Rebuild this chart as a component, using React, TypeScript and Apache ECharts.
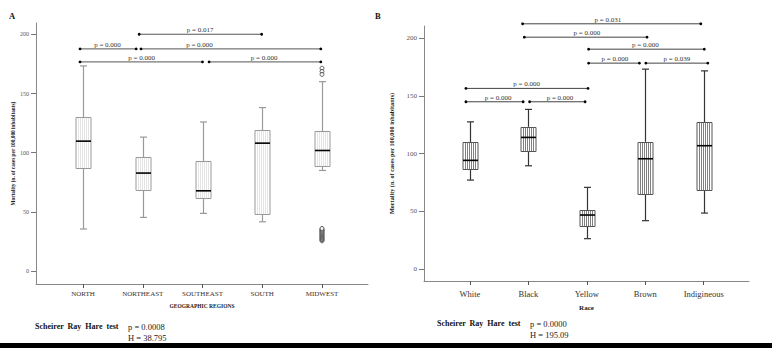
import React, { useEffect, useRef } from "react";
import * as echarts from "echarts";

const FONT = "'Liberation Serif', 'Times New Roman', serif";

const regionCategories = ["NORTH", "NORTHEAST", "SOUTHEAST", "SOUTH", "MIDWEST"];
// [x, min, Q1, median, Q3, max]
const regionBoxes = [
  [0, 35.5, 87.2, 109.8, 130.0, 173.4],
  [1, 45.3, 68.4, 82.8, 96.3, 113.2],
  [2, 48.7, 61.6, 67.8, 92.6, 126.0],
  [3, 41.6, 47.8, 108.1, 119.1, 138.2],
  [4, 85.0, 89.0, 101.9, 118.2, 160.1],
];
const regionOutliers = [
  [4, 171.5], [4, 168.7], [4, 166.2],
  [4, 25.5], [4, 26.3], [4, 27], [4, 27.8], [4, 28.5], [4, 29.3], [4, 30], [4, 30.8],
  [4, 31.5], [4, 32.3], [4, 33], [4, 33.8], [4, 34.5], [4, 35.3], [4, 36],
];
// [from, to, y, textX]
const regionBrackets = [
  [0.94, 2.99, 200.2, 1.96],
  [-0.05, 0.89, 187.8, 0.41],
  [0.97, 3.98, 187.8, 1.95],
  [-0.05, 2.0, 176.8, 0.98],
  [2.11, 3.98, 176.8, 3.03],
];
const regionBracketLabels = ["p = 0.017", "p = 0.000", "p = 0.000", "p = 0.000", "p = 0.000"];

const raceCategories = ["White", "Black", "Yellow", "Brown", "Indigineous"];
const raceBoxes = [
  [0, 77.1, 86.7, 94.2, 109.8, 127.6],
  [1, 89.5, 102.3, 114.1, 123.3, 138.4],
  [2, 26.3, 37.3, 46.8, 51.1, 70.8],
  [3, 41.9, 65.0, 95.6, 110.3, 173.3],
  [4, 48.5, 68.2, 106.9, 127.1, 171.8],
];
const raceBrackets = [
  [0.9, 3.95, 212.6, 2.36],
  [0.93, 3.03, 201, 2.0],
  [2.03, 4.01, 190.6, 3.0],
  [2.03, 2.9, 178.5, 2.48],
  [3.01, 4.07, 178.5, 3.54],
  [-0.07, 2.02, 156.6, 0.97],
  [-0.07, 0.91, 145, 0.48],
  [1.02, 1.97, 145, 1.54],
];
const raceBracketLabels = [
  "p = 0.031", "p = 0.000", "p = 0.000", "p = 0.000", "p = 0.039", "p = 0.000", "p = 0.000", "p = 0.000",
];

const yTicks = [0, 50, 100, 150, 200];
const xTicks = [0, 1, 2, 3, 4];

type BoxStyle = {
  boxWidth: number;
  capWidth: number;
  whisker: string;
  border: string;
  stripe: string;
  stripeWidth: number;
  stripeGap: number;
  dash: number[] | null;
};

function makeBoxRender(s: BoxStyle) {
  return (params: any, api: any) => {
    const x = api.value(0);
    const pMin = api.coord([x, api.value(1)]);
    const pQ1 = api.coord([x, api.value(2)]);
    const pMed = api.coord([x, api.value(3)]);
    const pQ3 = api.coord([x, api.value(4)]);
    const pMax = api.coord([x, api.value(5)]);
    const cx = Math.round(pMin[0]) + 0.5;
    const hw = s.boxWidth / 2;
    const cw = s.capWidth / 2;
    const children: any[] = [];
    const ws = { stroke: s.whisker, lineWidth: 1.2 };
    children.push({ type: "line", shape: { x1: cx, y1: pMax[1], x2: cx, y2: pQ3[1] }, style: ws });
    children.push({ type: "line", shape: { x1: cx, y1: pQ1[1], x2: cx, y2: pMin[1] }, style: ws });
    children.push({ type: "line", shape: { x1: cx - cw, y1: pMax[1], x2: cx + cw, y2: pMax[1] }, style: ws });
    children.push({ type: "line", shape: { x1: cx - cw, y1: pMin[1], x2: cx + cw, y2: pMin[1] }, style: ws });
    const top = Math.round(pQ3[1]) + 0.5;
    const bottom = Math.round(pQ1[1]) + 0.5;
    const h = bottom - top;
    const bx = cx - hw; // integer
    children.push({ type: "rect", shape: { x: bx, y: top, width: 2 * hw, height: h }, style: { fill: "#fff" } });
    for (let lx = bx + 2.5; lx < bx + 2 * hw - 1; lx += s.stripeGap) {
      children.push({
        type: "line",
        shape: { x1: lx, y1: top, x2: lx, y2: bottom },
        style: { stroke: s.stripe, lineWidth: s.stripeWidth, lineDash: s.dash || undefined },
      });
    }
    children.push({
      type: "rect",
      shape: { x: bx, y: top, width: 2 * hw, height: h },
      style: { fill: "none", stroke: s.border, lineWidth: 1 },
    });
    children.push({
      type: "line",
      shape: { x1: bx, y1: pMed[1], x2: bx + 2 * hw, y2: pMed[1] },
      style: { stroke: "#000", lineWidth: 1.6 },
    });
    return { type: "group", children };
  };
}

function makeBracketRender(labels: string[], color: string) {
  return (params: any, api: any) => {
    const y = api.value(2);
    const p1 = api.coord([api.value(0), y]);
    const p2 = api.coord([api.value(1), y]);
    const pt = api.coord([api.value(3), y]);
    return {
      type: "group",
      children: [
        { type: "line", shape: { x1: p1[0], y1: p1[1], x2: p2[0], y2: p2[1] }, style: { stroke: color, lineWidth: 1 } },
        { type: "circle", shape: { cx: p1[0], cy: p1[1], r: 1.4 }, style: { fill: "#000" } },
        { type: "circle", shape: { cx: p2[0], cy: p2[1], r: 1.4 }, style: { fill: "#000" } },
        {
          type: "text",
          x: pt[0],
          y: pt[1] - 0.5,
          style: {
            text: labels[params.dataIndex],
            fontSize: 7,
            fontFamily: FONT,
            fill: "#333",
            align: "center",
            verticalAlign: "bottom",
          },
        },
      ],
    };
  };
}

function xAxisCfg(grid: number, min: number, max: number, cats: string[], opts: any) {
  return {
    gridIndex: grid,
    type: "value",
    min,
    max,
    splitLine: { show: false },
    axisLine: { show: true, onZero: false, lineStyle: { color: "#888", width: 1 } },
    axisTick: { show: true, customValues: xTicks, length: 4, lineStyle: { color: "#555" } },
    axisLabel: {
      customValues: xTicks,
      formatter: (v: number) => cats[Math.round(v)] || "",
      fontSize: opts.labelSize,
      fontFamily: FONT,
      color: "#333",
      margin: opts.labelMargin,
    },
    name: opts.name,
    nameLocation: "middle",
    nameGap: opts.nameGap,
    nameTextStyle: { fontSize: opts.nameSize, fontWeight: "bold", fontFamily: FONT, color: "#222" },
  };
}

function yAxisCfg(grid: number, min: number, max: number, opts: any) {
  return {
    gridIndex: grid,
    type: "value",
    min,
    max,
    splitLine: { show: false },
    axisLine: { show: true, onZero: false, lineStyle: { color: "#888", width: 1 } },
    axisTick: { show: true, customValues: yTicks, length: 5, lineStyle: { color: "#777" } },
    axisLabel: {
      customValues: yTicks,
      fontSize: opts.labelSize,
      fontFamily: FONT,
      color: "#555",
      margin: 7,
    },
    name: "Mortality (n. of cases per 100,000 inhabitants)",
    nameLocation: "middle",
    nameGap: opts.nameGap,
    nameRotate: 90,
    nameTextStyle: { fontSize: opts.nameSize, fontWeight: "bold", fontFamily: FONT, color: "#222" },
  };
}

export default function App() {
  const ref = useRef<HTMLDivElement>(null);
  useEffect(() => {
    if (!ref.current) return;
    const chart = echarts.init(ref.current, null, { renderer: "svg" });
    const leftBox: BoxStyle = {
      boxWidth: 15, capWidth: 7, whisker: "#999", border: "#999",
      stripe: "#c8c8c8", stripeWidth: 1, stripeGap: 2, dash: [1, 1],
    };
    const rightBox: BoxStyle = {
      boxWidth: 15, capWidth: 7, whisker: "#333", border: "#555",
      stripe: "#808080", stripeWidth: 1, stripeGap: 2, dash: null,
    };
    chart.setOption({
      animation: false,
      backgroundColor: "#fff",
      grid: [
        { left: 36, top: 23, width: 332, height: 261 },
        { left: 424, top: 26, width: 325, height: 255 },
      ],
      xAxis: [
        xAxisCfg(0, -0.787, 4.77, regionCategories, {
          labelSize: 7, labelMargin: 6, name: "GEOGRAPHIC REGIONS", nameGap: 19, nameSize: 5.5,
        }),
        xAxisCfg(1, -0.787, 4.775, raceCategories, {
          labelSize: 8.5, labelMargin: 8, name: "Race", nameGap: 23, nameSize: 7,
        }),
      ],
      yAxis: [
        yAxisCfg(0, -11, 209.7, { labelSize: 6, nameGap: 21, nameSize: 5.3 }),
        yAxisCfg(1, -10.4, 210.7, { labelSize: 7, nameGap: 30, nameSize: 6.2 }),
      ],
      series: [
        {
          type: "custom", xAxisIndex: 0, yAxisIndex: 0, data: regionBoxes,
          encode: { x: 0, y: [1, 2, 3, 4, 5] }, renderItem: makeBoxRender(leftBox),
        },
        {
          type: "scatter", xAxisIndex: 0, yAxisIndex: 0, data: regionOutliers,
          symbol: "circle", symbolSize: 4,
          itemStyle: { color: "#fff", borderColor: "#111", borderWidth: 0.8 },
        },
        {
          type: "custom", xAxisIndex: 0, yAxisIndex: 0, data: regionBrackets, clip: false,
          encode: { x: [0, 1, 3], y: 2 }, renderItem: makeBracketRender(regionBracketLabels, "#555"),
        },
        {
          type: "custom", xAxisIndex: 1, yAxisIndex: 1, data: raceBoxes,
          encode: { x: 0, y: [1, 2, 3, 4, 5] }, renderItem: makeBoxRender(rightBox),
        },
        {
          type: "custom", xAxisIndex: 1, yAxisIndex: 1, data: raceBrackets, clip: false,
          encode: { x: [0, 1, 3], y: 2 }, renderItem: makeBracketRender(raceBracketLabels, "#444"),
        },
      ],
      graphic: [
        { type: "text", left: 9, top: 11, style: { text: "A", fontSize: 8.5, fontWeight: "bold", fontFamily: FONT, fill: "#111" } },
        { type: "text", left: 375, top: 11, style: { text: "B", fontSize: 8.5, fontWeight: "bold", fontFamily: FONT, fill: "#111" } },
        { type: "text", left: 35, top: 322, style: { text: "Scheirer  Ray  Hare  test", fontSize: 8, fontWeight: "bold", fontFamily: FONT, fill: "#111" } },
        { type: "text", left: 128, top: 322, style: { text: "p = 0.0008", fontSize: 8.5, fontFamily: FONT, fill: "#222" } },
        { type: "text", left: 128, top: 333, style: { text: "H = 38.795", fontSize: 8.5, fontFamily: FONT, fill: "#222" } },
        { type: "text", left: 437, top: 319, style: { text: "Scheirer  Ray  Hare  test", fontSize: 8, fontWeight: "bold", fontFamily: FONT, fill: "#111" } },
        { type: "text", left: 530, top: 319, style: { text: "p = 0.0000", fontSize: 8.5, fontFamily: FONT, fill: "#222" } },
        { type: "text", left: 530, top: 330, style: { text: "H = 195.09", fontSize: 8.5, fontFamily: FONT, fill: "#222" } },
        { type: "rect", left: 0, top: 343, shape: { width: 772, height: 5 }, style: { fill: "#000" } },
      ],
    });
    return () => chart.dispose();
  }, []);
  return <div ref={ref} style={{ position: "fixed", left: 0, top: 0, width: 772, height: 348 }} />;
}
